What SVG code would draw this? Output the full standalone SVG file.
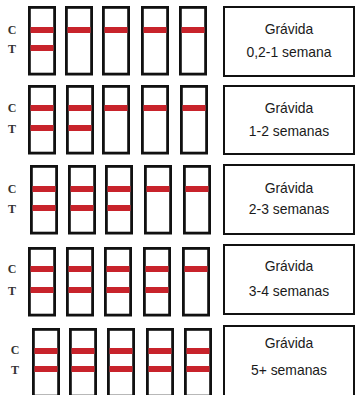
<svg xmlns="http://www.w3.org/2000/svg" width="356" height="395" viewBox="0 0 356 395">
  <style>
    .strip { fill: #ffffff; stroke: #111111; stroke-width: 2.8; }
    .band { fill: #c8232b; }
    .ct { font-family: "Liberation Serif", serif; font-weight: bold; font-size: 12px; fill: #333333; text-anchor: middle; }
    .box { fill: #ffffff; stroke: #111111; stroke-width: 2; }
    .lbl { font-family: "Liberation Sans", Arial, sans-serif; font-size: 13.9px; fill: #1a1a1a; text-anchor: middle; }
  </style>
  <defs>
    <!-- one test strip outline, 28 x 69, origin at top-left of the outer edge -->
    <rect id="s" class="strip" x="1.4" y="1.4" width="25.2" height="66.7"/>
    <rect id="bandC" class="band" x="2.5" y="-3" width="23" height="6"/>
  </defs>
  <rect width="356" height="395" fill="#ffffff"/>

  <!-- Row 1: 0,2-1 semana -->
  <g id="row1">
    <text class="ct" x="12" y="34">C</text>
    <text class="ct" x="12" y="53">T</text>
    <use href="#s" x="28" y="6"/><use href="#s" x="65" y="6"/><use href="#s" x="102" y="6"/><use href="#s" x="141" y="6"/><use href="#s" x="179" y="6"/>
    <use href="#bandC" x="28" y="30"/><use href="#bandC" x="28" y="48"/>
    <use href="#bandC" x="65" y="30"/><use href="#bandC" x="102" y="30"/><use href="#bandC" x="141" y="30"/><use href="#bandC" x="179" y="30"/>
    <rect class="box" x="224" y="7" width="130" height="69"/>
    <text class="lbl" x="289" y="34">Grávida</text>
    <text class="lbl" x="289" y="57">0,2-1 semana</text>
  </g>

  <!-- Row 2: 1-2 semanas -->
  <g id="row2">
    <text class="ct" x="12" y="112">C</text>
    <text class="ct" x="12" y="133">T</text>
    <use href="#s" x="28" y="85"/><use href="#s" x="66" y="85"/><use href="#s" x="102" y="85"/><use href="#s" x="141" y="85"/><use href="#s" x="180" y="85"/>
    <use href="#bandC" x="28" y="108"/><use href="#bandC" x="28" y="128"/>
    <use href="#bandC" x="66" y="108"/><use href="#bandC" x="66" y="128"/>
    <use href="#bandC" x="102" y="108"/><use href="#bandC" x="141" y="108"/><use href="#bandC" x="180" y="108"/>
    <rect class="box" x="224" y="86" width="130" height="68"/>
    <text class="lbl" x="289" y="113">Grávida</text>
    <text class="lbl" x="289" y="136">1-2 semanas</text>
  </g>

  <!-- Row 3: 2-3 semanas -->
  <g id="row3">
    <text class="ct" x="12" y="193">C</text>
    <text class="ct" x="12" y="213">T</text>
    <use href="#s" x="30" y="165"/><use href="#s" x="68" y="165"/><use href="#s" x="105" y="165"/><use href="#s" x="144" y="165"/><use href="#s" x="183" y="165"/>
    <use href="#bandC" x="30" y="189"/><use href="#bandC" x="30" y="208"/>
    <use href="#bandC" x="68" y="189"/><use href="#bandC" x="68" y="208"/>
    <use href="#bandC" x="105" y="189"/><use href="#bandC" x="105" y="208"/>
    <use href="#bandC" x="144" y="189"/><use href="#bandC" x="183" y="189"/>
    <rect class="box" x="224" y="165" width="130" height="69"/>
    <text class="lbl" x="289" y="193">Grávida</text>
    <text class="lbl" x="289" y="214">2-3 semanas</text>
  </g>

  <!-- Row 4: 3-4 semanas -->
  <g id="row4">
    <text class="ct" x="12" y="273">C</text>
    <text class="ct" x="12" y="295">T</text>
    <use href="#s" x="28" y="247"/><use href="#s" x="66" y="247"/><use href="#s" x="104" y="247"/><use href="#s" x="143" y="247"/><use href="#s" x="182" y="247"/>
    <use href="#bandC" x="28" y="269"/><use href="#bandC" x="28" y="290"/>
    <use href="#bandC" x="66" y="269"/><use href="#bandC" x="66" y="290"/>
    <use href="#bandC" x="104" y="269"/><use href="#bandC" x="104" y="290"/>
    <use href="#bandC" x="143" y="269"/><use href="#bandC" x="143" y="290"/>
    <use href="#bandC" x="182" y="269"/>
    <rect class="box" x="224" y="245" width="130" height="69"/>
    <text class="lbl" x="289" y="271">Grávida</text>
    <text class="lbl" x="289" y="296">3-4 semanas</text>
  </g>

  <!-- Row 5: 5+ semanas (runs off the bottom edge) -->
  <g id="row5">
    <text class="ct" x="15" y="354">C</text>
    <text class="ct" x="15" y="374">T</text>
    <use href="#s" x="32" y="328"/><use href="#s" x="69" y="328"/><use href="#s" x="107" y="328"/><use href="#s" x="146" y="328"/><use href="#s" x="184" y="328"/>
    <use href="#bandC" x="32" y="351"/><use href="#bandC" x="32" y="369"/>
    <use href="#bandC" x="69" y="351"/><use href="#bandC" x="69" y="369"/>
    <use href="#bandC" x="107" y="351"/><use href="#bandC" x="107" y="369"/>
    <use href="#bandC" x="146" y="351"/><use href="#bandC" x="146" y="369"/>
    <use href="#bandC" x="184" y="351"/><use href="#bandC" x="184" y="369"/>
    <rect class="box" x="224" y="326" width="130" height="80"/>
    <text class="lbl" x="289" y="348">Grávida</text>
    <text class="lbl" x="289" y="375">5+ semanas</text>
  </g>
</svg>
